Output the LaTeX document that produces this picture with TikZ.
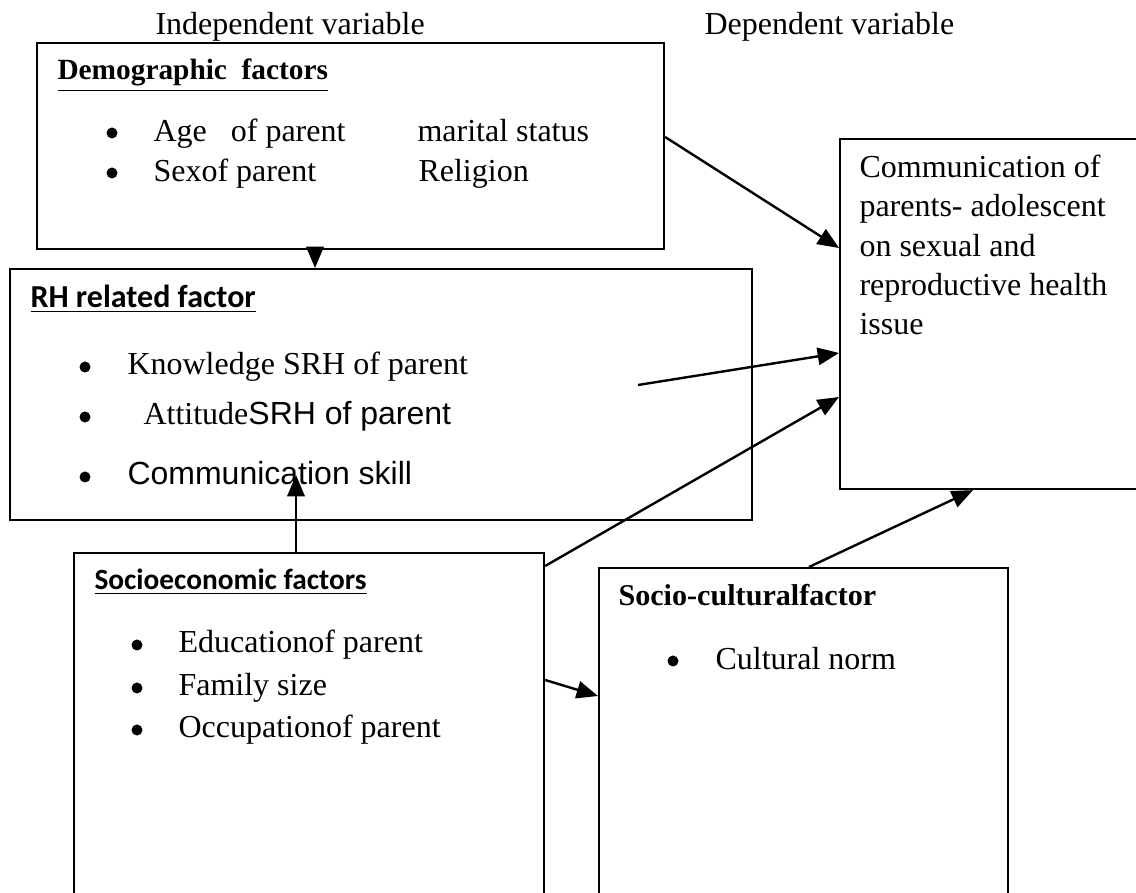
\documentclass[tikz,border=0pt]{standalone}
\usepackage{fontspec}
\setmainfont{Liberation Serif}
\newfontfamily\arialfont{Liberation Sans}
\newfontfamily\calibrifont{Carlito}
\usetikzlibrary{arrows.meta,calc}

\begin{document}
\begin{tikzpicture}[x=0.375pt,y=-0.375pt]

 \tikzset{
      boxstl/.style={draw,line width=0.8pt,anchor=north west,inner sep=0pt},
      txtstl/.style={anchor=base west,inner sep=0pt,font=\fontsize{12}{14}\selectfont},
      ttlstl/.style={anchor=base west,inner sep=0pt,font=\fontsize{11.3}{13}\selectfont\bfseries},
      calstl/.style={anchor=base west,inner sep=0pt,font=\calibrifont\bfseries},
      arrstl/.style={line width=0.9pt,-{Triangle[length=8pt,width=6.5pt]}},
    }

 \useasboundingbox (0,0) rectangle (1136,893);
 \clip (0,0) rectangle (1136,893);

 % the boxes
 \node[boxstl,minimum width=235.125pt,minimum height=77.25pt] (demo) at (36,42) {};
 \node[boxstl,minimum width=278.25pt,minimum height=94.125pt] (rh) at (9,268) {};
 \node[boxstl,minimum width=112.875pt,minimum height=131.25pt] (dep) at (839,138) {};
 \node[boxstl,minimum width=176.25pt,minimum height=132.375pt] (soc) at (73,552) {};
 \node[boxstl,minimum width=153.375pt,minimum height=126.75pt] (cult) at (598,567) {};

 % headings
 \node[txtstl] (indep) at (155,35) {Independent variable};
 \node[txtstl] (depvar) at (704,35) {Dependent variable};

 % demographic factors
 \node[ttlstl,font=\fontsize{11}{13}\selectfont\bfseries] (demottl) at (57,80) {\underline{Demographic\ \ factors}};
 \fill (112,133) circle (5.5);
 \fill (112,173) circle (5.5);
 \node[txtstl] (age) at (153,142) {Age\ \ \ of parent};
 \node[txtstl] (marital) at (417,142) {marital status};
 \node[txtstl] (sex) at (153,182) {Sexof parent};
 \node[txtstl] (relig) at (418,182) {Religion};

 % RH related factor
 \node[calstl,font=\calibrifont\bfseries\fontsize{12}{14}\selectfont] (rhttl) at (30,308) {\underline{RH related factor}};
 \fill (85,367) circle (5.5);
 \fill (85,417) circle (5.5);
 \fill (85,477) circle (5.5);
 \node[txtstl] (know) at (127,375) {Knowledge SRH of parent};
 \node[txtstl] (att) at (143,425) {Attitude{\arialfont SRH of parent}};
 \node[txtstl,font=\arialfont\fontsize{12}{14}\selectfont] (skill) at (127,485) {Communication skill};

 % socioeconomic factors
 \node[calstl,font=\calibrifont\bfseries\fontsize{11}{13}\selectfont] (socttl) at (94,590) {\underline{Socioeconomic factors}};
 \fill (137,645) circle (5.5);
 \fill (137,688) circle (5.5);
 \fill (137,730) circle (5.5);
 \node[txtstl] (educ) at (178,653) {Educationof parent};
 \node[txtstl] (fam) at (178,696) {Family size};
 \node[txtstl] (occ) at (178,738) {Occupationof parent};

 % socio-cultural factor
 \node[ttlstl] (cultttl) at (618,606) {Socio-culturalfactor};
 \fill (673,661) circle (5.5);
 \node[txtstl] (norm) at (715,670) {Cultural norm};

 % dependent variable
 \node[txtstl] (dv1) at (859,178) {Communication of};
 \node[txtstl] (dv2) at (859,217) {parents- adolescent};
 \node[txtstl] (dv3) at (859,257) {on sexual and};
 \node[txtstl] (dv4) at (859,296) {reproductive health};
 \node[txtstl] (dv5) at (859,335) {issue};

 % free ends
 \coordinate (kstart) at (638,385);
 \coordinate (stip) at (296,475);

 % arrows
 \draw[arrstl] ($(demo.north east)+(0,95)$) -- ($(dep.north west)+(0,110)$);
 \draw[arrstl] ($(demo.south west)+(279,0)$) coordinate (dd) -- (dd |- rh.north);
 \draw[arrstl] (kstart) -- ($(dep.north west)+(0,215)$);
 \draw[arrstl] ($(soc.north east)+(0,14)$) -- ($(dep.north west)+(0,259)$);
 \draw[arrstl] ($(soc.north west)+(223,0)$) -- (stip);
 \draw[arrstl] ($(soc.north east)+(0,128)$) -- ($(cult.north west)+(0,129)$);
 \draw[arrstl] ($(cult.north west)+(211,0)$) -- ($(dep.south west)+(134,0)$);
\end{tikzpicture}
\end{document}
